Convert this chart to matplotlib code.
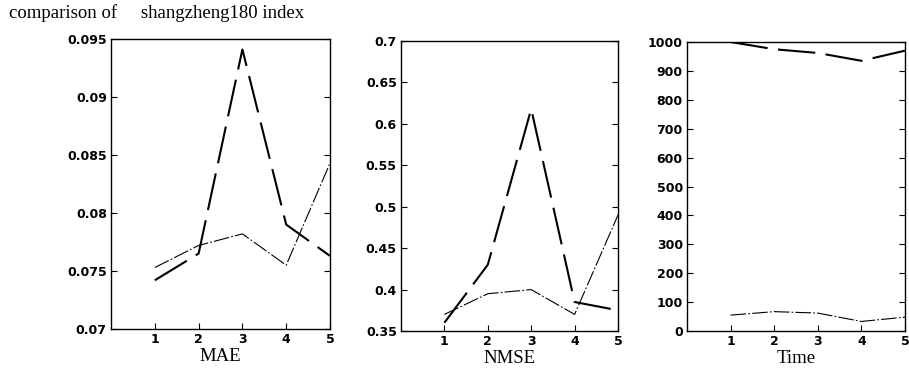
import numpy as np
import matplotlib
matplotlib.use('Agg')
import matplotlib.pyplot as plt

# data
x = [1, 2, 3, 4, 5]

mae_dash = [0.0742, 0.0765, 0.0941, 0.0790, 0.0763]
mae_thin = [0.0753, 0.0772, 0.0782, 0.0755, 0.0843]

nmse_dash = [0.360, 0.430, 0.618, 0.385, 0.375]
nmse_thin = [0.370, 0.395, 0.400, 0.370, 0.490]

time_dash = [1000, 975, 962, 935, 970]
time_thin = [55, 67, 62, 33, 48]

mae_ticks = [0.07, 0.075, 0.08, 0.085, 0.09, 0.095]
mae_labels = ['0.07', '0.075', '0.08', '0.085', '0.09', '0.095']
nmse_ticks = [0.35, 0.4, 0.45, 0.5, 0.55, 0.6, 0.65, 0.7]
nmse_labels = ['0.35', '0.4', '0.45', '0.5', '0.55', '0.6', '0.65', '0.7']
time_ticks = [0, 100, 200, 300, 400, 500, 600, 700, 800, 900, 1000]

xlabels = ['MAE', 'NMSE', 'Time']

W, H = 909, 371
fig = plt.figure(figsize=(W / 100, H / 100), dpi=100)

# axes boxes in pixels: left, right, top, bottom
boxes = [(111, 330, 39, 329), (401, 618, 41, 331), (687, 905, 42, 331)]
axes = []
for (l, r, t, b) in boxes:
    ax = fig.add_axes([l / W, 1 - b / H, (r - l) / W, (b - t) / H])
    axes.append(ax)

series = [(mae_dash, mae_thin, mae_ticks, mae_labels, (0.07, 0.095)),
          (nmse_dash, nmse_thin, nmse_ticks, nmse_labels, (0.35, 0.7)),
          (time_dash, time_thin, time_ticks, [str(t) for t in time_ticks], (0, 1000))]

tick_font = dict(family='DejaVu Sans', weight='bold', size=9)
serif = ['Liberation Serif', 'DejaVu Serif']

for ax, (yd, yt, yticks, ylabs, ylim), lab in zip(axes, series, xlabels):
    ax.plot(x, yd, color='black', lw=1.5, linestyle=(0, (18, 5)))
    ax.plot(x, yt, color='black', lw=0.8, linestyle=(0, (14, 2, 1.5, 2)))
    ax.set_xlim(0, 5)
    ax.set_ylim(*ylim)
    ax.set_xticks(x)
    ax.set_xticklabels([str(v) for v in x], fontdict=tick_font)
    ax.set_yticks(yticks)
    ax.set_yticklabels(ylabs, fontdict=tick_font)
    ax.tick_params(direction='in', length=4, width=0.8, right=True, top=False, pad=3)
    for s in ax.spines.values():
        s.set_linewidth(1.0)
    ax.set_xlabel(lab, family=serif, fontsize=13.5, labelpad=1)

fig.text(9 / W, 1 - 13 / H, 'comparison of     shangzheng180 index',
         family=serif, fontsize=13.5, va='center', ha='left')

fig.savefig('out.png', dpi=100)
